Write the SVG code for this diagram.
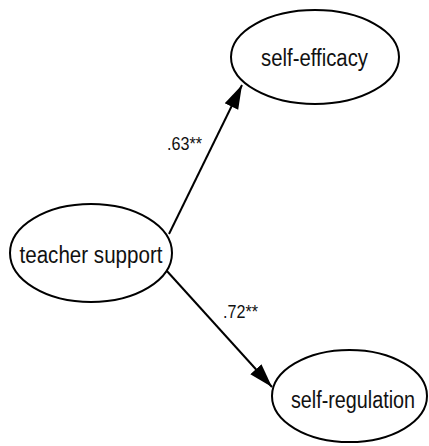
<svg xmlns="http://www.w3.org/2000/svg" width="429" height="446" viewBox="0 0 429 446">
<style>
.node ellipse{fill:#fff;stroke:#000;stroke-width:2}
.node text{font-family:"Liberation Sans",Arial,sans-serif;font-size:23px;fill:#111;text-anchor:middle}
.edge line{stroke:#000;stroke-width:2;fill:none}
.lbl{font-family:"Liberation Sans",Arial,sans-serif;font-size:18px;fill:#111}
</style>
<defs>
<marker id="arr" markerUnits="userSpaceOnUse" markerWidth="26" markerHeight="18" viewBox="0 0 26 18" refX="24" refY="9" orient="auto">
<path d="M0,1.5 L24,9 L0,16.5 Z" fill="#000"/>
</marker>
</defs>
<rect width="429" height="446" fill="#fff"/>
<g id="connectors" class="edge">
<line x1="169" y1="234" x2="242" y2="85" marker-end="url(#arr)"/>
<line x1="166" y1="270" x2="272" y2="387" marker-end="url(#arr)"/>
<text class="lbl" x="167" y="150" textLength="35" lengthAdjust="spacingAndGlyphs">.63**</text>
<text class="lbl" x="223" y="318" textLength="35" lengthAdjust="spacingAndGlyphs">.72**</text>
</g>
<g id="self-efficacy" class="node">
<ellipse cx="315" cy="57" rx="84" ry="47"/>
<text x="314.5" y="66" textLength="107" lengthAdjust="spacingAndGlyphs">self-efficacy</text>
</g>
<g id="teacher-support" class="node">
<ellipse cx="91" cy="253" rx="81" ry="49"/>
<text x="91" y="263" textLength="143" lengthAdjust="spacingAndGlyphs">teacher support</text>
</g>
<g id="self-regulation" class="node">
<ellipse cx="349.5" cy="396" rx="77.5" ry="46"/>
<text transform="translate(353,408) scale(0.86,1)" x="0" y="0" font-size="22">self-regulation</text>
</g>
</svg>
